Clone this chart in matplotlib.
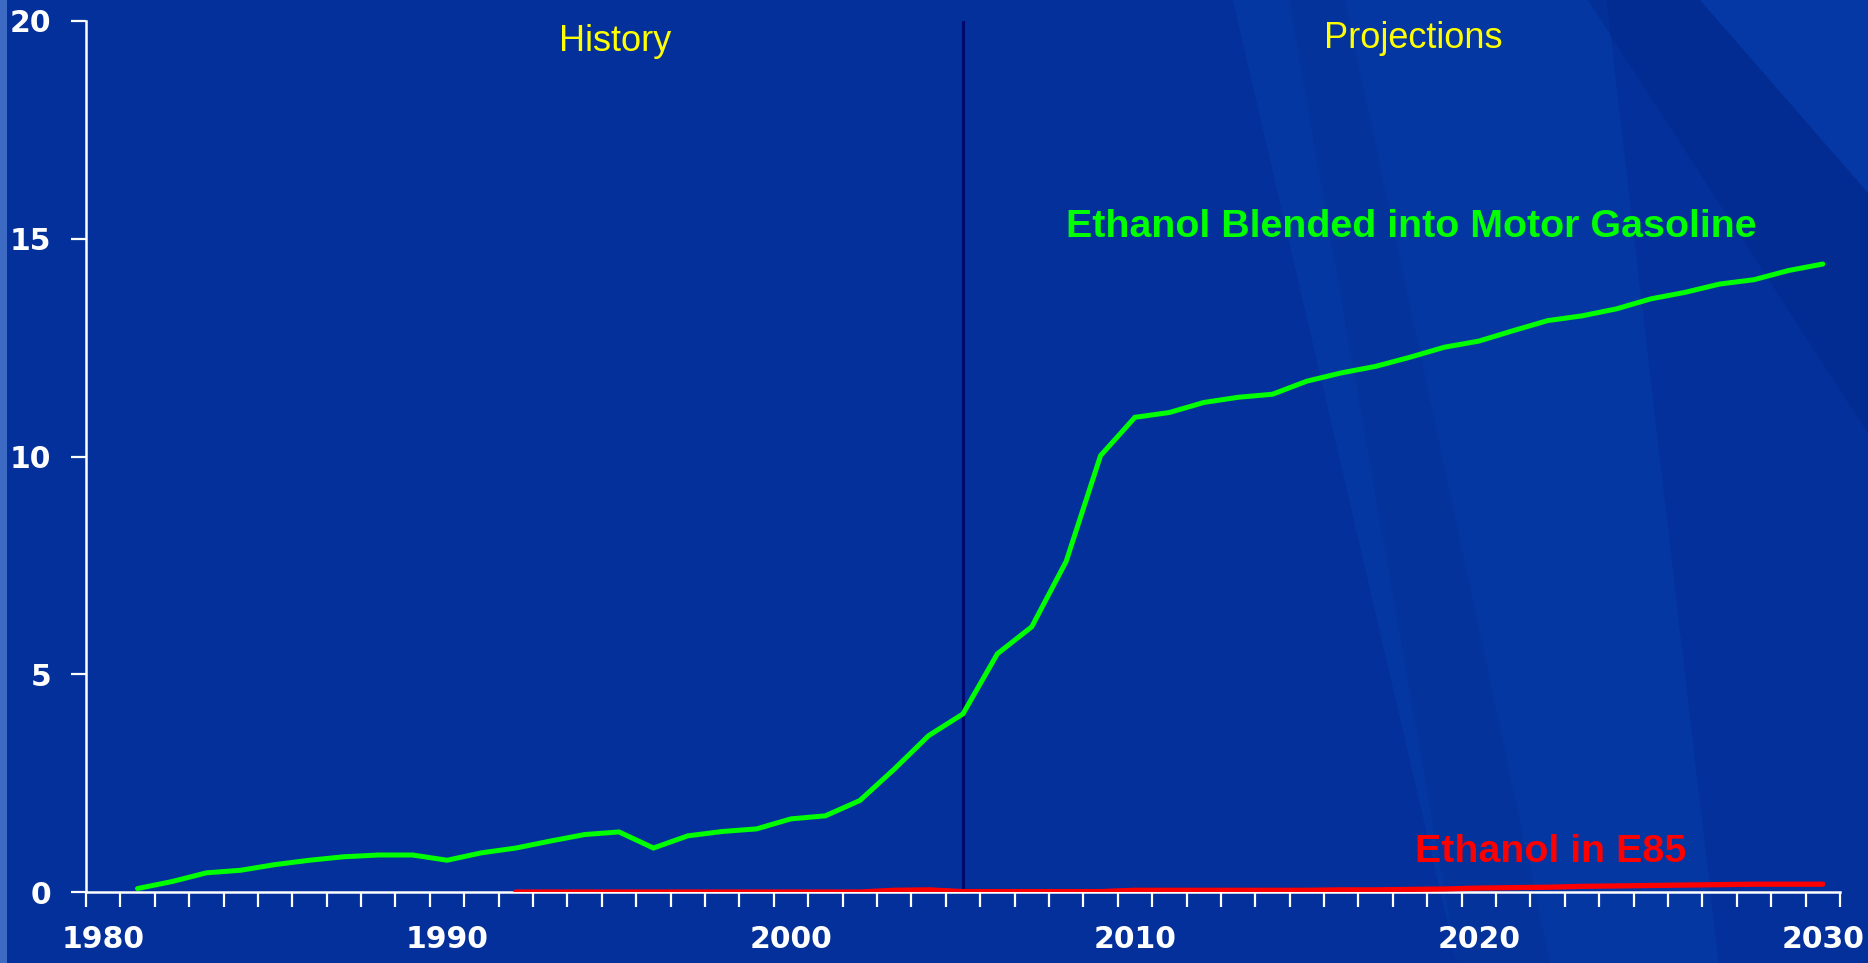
import matplotlib
matplotlib.use("Agg")
import matplotlib.pyplot as plt
from matplotlib.patches import Polygon, Rectangle

# Data (billion gallons)
years = list(range(1980, 2031))

blended_years = list(range(1981, 2031))
blended = [
    0.08, 0.24, 0.44, 0.50, 0.63, 0.73, 0.81, 0.85, 0.85, 0.73,   # 1981-1990
    0.90, 1.01, 1.17, 1.32, 1.38, 1.01, 1.29, 1.39, 1.45, 1.68,   # 1991-2000
    1.75, 2.10, 2.82, 3.59, 4.09, 5.47, 6.09, 7.59, 10.02, 10.90, # 2001-2010
    11.01, 11.24, 11.36, 11.43, 11.73, 11.92, 12.07, 12.28, 12.51, 12.65,  # 2011-2020
    12.89, 13.12, 13.23, 13.39, 13.62, 13.77, 13.96, 14.06, 14.27, 14.42,  # 2021-2030
]

e85_years = list(range(1992, 2031))
e85 = [
    0.0, 0.0, 0.0, 0.0, 0.0, 0.0, 0.0, 0.0, 0.0, 0.0,   # 1992-2001
    0.0, 0.04, 0.05, 0.01, 0.01, 0.01, 0.01, 0.01, 0.04, 0.04,  # 2002-2011
    0.04, 0.04, 0.04, 0.04, 0.05, 0.05, 0.06, 0.07, 0.09, 0.10,  # 2012-2021
    0.11, 0.13, 0.14, 0.15, 0.16, 0.17, 0.18, 0.18, 0.18,  # 2022-2030
]

y_ticks = [0, 5, 10, 15, 20]
x_labels = [1980, 1990, 2000, 2010, 2020, 2030]
split_year = 2005

BG = "#03309A"
WHITE = "white"
YELLOW = "#FFFF00"
GREEN = "#00FF00"
RED = "#FF0000"

fig = plt.figure(figsize=(18.68, 9.63), dpi=100, facecolor=BG)

# Slide background on its own axes, behind the chart
bg = fig.add_axes([0, 0, 1, 1], zorder=-10)
bg.set_xlim(0, 1)
bg.set_ylim(0, 1)
bg.axis("off")
bg.add_patch(Rectangle((0, 0), 0.0035, 1, facecolor="#3D6BC4", edgecolor="none"))
bands = [
    ([(0.66, 1.0), (0.86, 1.0), (0.92, 0.0), (0.78, 0.0)], "#0A48B8", 0.30),
    ([(0.78, 0.0), (0.83, 0.0), (0.72, 1.0), (0.69, 1.0)], "#02288A", 0.25),
    ([(0.85, 1.0), (0.91, 1.0), (1.0, 0.80), (1.0, 0.55)], "#02288A", 0.45),
    ([(0.91, 1.0), (1.0, 1.0), (1.0, 0.80)], "#0A48B8", 0.35),
]
for pts, col, a in bands:
    bg.add_patch(Polygon(pts, closed=True, facecolor=col, edgecolor="none", alpha=a))

ax = fig.add_axes([0.046, 0.0737, 0.939, 0.9045])
ax.patch.set_alpha(0)

ax.plot(blended_years, blended, color=GREEN, lw=3.6, solid_capstyle="round",
        solid_joinstyle="miter", zorder=3)
ax.plot(e85_years, e85, color=RED, lw=3.8, solid_capstyle="round", zorder=3)

# History / projections divider
ax.axvline(split_year, color="#000A6E", lw=2.2, zorder=2)

ax.set_xlim(years[0] - 0.5, years[-1] + 0.5)
ax.set_ylim(0, 20)

# Category-style axis: tick marks between years, labels on decades
ax.set_xticks(x_labels)
ax.set_xticks([y - 0.5 for y in years] + [years[-1] + 0.5], minor=True)
ax.tick_params(axis="x", which="major", length=0, pad=24)
ax.tick_params(axis="x", which="minor", length=11, width=1.6,
               direction="out", color=WHITE)
ax.set_yticks(y_ticks)
ax.tick_params(axis="y", length=11, width=1.6, direction="out",
               color=WHITE, pad=14)

for lab in ax.get_xticklabels() + ax.get_yticklabels():
    lab.set_color(WHITE)
    lab.set_fontfamily("DejaVu Sans")
    lab.set_fontweight("bold")
    lab.set_fontsize(21.5)

for side in ["top", "right"]:
    ax.spines[side].set_visible(False)
for side in ["left", "bottom"]:
    ax.spines[side].set_color(WHITE)
    ax.spines[side].set_linewidth(1.8)

# Annotations
ax.text(1994.9, 19.31, "History", color=YELLOW, fontsize=26,
        family="Liberation Sans", ha="center", va="baseline")
ax.text(2018.1, 19.37, "Projections", color=YELLOW, fontsize=26,
        family="Liberation Sans", ha="center", va="baseline")
ax.text(2018.05, 15.04, "Ethanol Blended into Motor Gasoline", color=GREEN,
        fontsize=28.4, fontweight="bold", family="Liberation Sans",
        ha="center", va="baseline")
ax.text(2022.1, 0.69, "Ethanol in E85", color=RED, fontsize=28.4,
        fontweight="bold", family="Liberation Sans", ha="center", va="baseline")

fig.savefig("out.png", dpi=100, facecolor=BG)
